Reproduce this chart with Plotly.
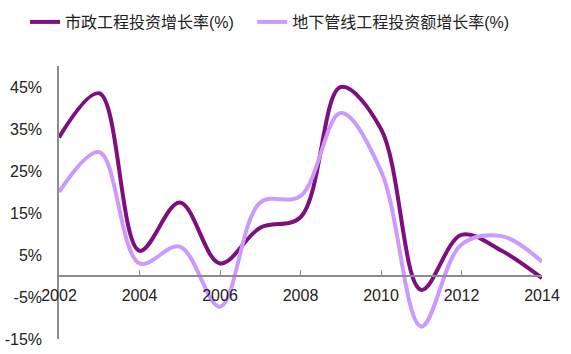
import plotly.graph_objects as go

years = list(range(2002, 2015))
municipal = [33, 43.5, 6, 17.5, 3, 11.5, 14, 45, 35, -3.3, 9.8, 6, -0.5]
pipeline = [20, 29.5, 3, 7, -7.3, 17.5, 19, 38.8, 25, -12, 7.5, 9.5, 3.4]
series_names = ["市政工程投资增长率(%)", "地下管线工程投资额增长率(%)"]
y_ticks = [-15, -5, 5, 15, 25, 35, 45]
y_tick_text = [f"{v}%" for v in y_ticks]
x_ticks = [2002, 2004, 2006, 2008, 2010, 2012, 2014]

FONT = "Liberation Sans, Arial, Noto Sans CJK SC, sans-serif"
PAD = "\u00a0\u00a0\u00a0"

fig = go.Figure()
fig.add_trace(go.Scatter(x=years, y=municipal, name=series_names[0] + PAD, mode="lines",
                         line=dict(color="#7F0F7E", width=4, shape="spline", smoothing=1)))
fig.add_trace(go.Scatter(x=years, y=pipeline, name=series_names[1], mode="lines",
                         line=dict(color="#CC99FF", width=4, shape="spline", smoothing=1)))

W, H = 571, 354
L, R, T, B = 59, 29, 66, 15
ph = H - T - B
pw = W - L - R
ymin, ymax = -15, 50

fig.update_layout(
    width=W, height=H,
    margin=dict(l=L, r=R, t=T, b=B, autoexpand=False),
    paper_bgcolor="white", plot_bgcolor="white",
    font=dict(family=FONT, size=16, color="#222222"),
    showlegend=True,
    legend=dict(orientation="h", x=(25 - L) / pw, xanchor="left",
                y=(H - B - 22) / ph, yanchor="middle",
                font=dict(size=16, color="#222222"),
                bgcolor="rgba(0,0,0,0)"),
    xaxis=dict(range=[2002, 2014], tickvals=x_ticks, showgrid=False, zeroline=False,
               showline=True, linecolor="#8C8C8C", linewidth=1.5,
               ticks="inside", ticklen=5, tickcolor="#8C8C8C",
               anchor="free", position=(0 - ymin) / (ymax - ymin),
               ticklabelstandoff=5,
               tickfont=dict(size=16, color="#222222")),
    yaxis=dict(range=[ymin, ymax], tickvals=y_ticks, ticktext=y_tick_text,
               showgrid=False, zeroline=False, showline=True,
               linecolor="#8C8C8C", linewidth=1.5, ticks="",
               ticklabelstandoff=12,
               tickfont=dict(size=16, color="#222222")),
)

fig.write_html("out.html")
